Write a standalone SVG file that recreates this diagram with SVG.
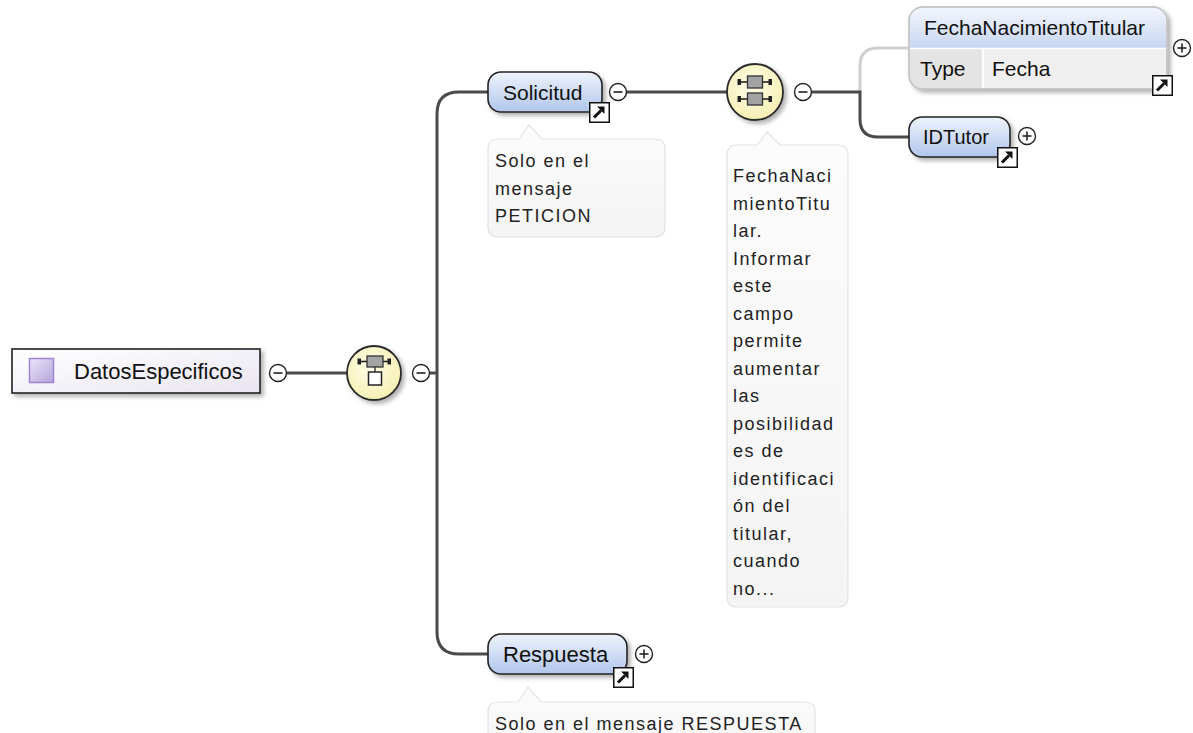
<svg xmlns="http://www.w3.org/2000/svg" xmlns:xlink="http://www.w3.org/1999/xlink" width="1193" height="733" viewBox="0 0 1193 733">
<style>
.lbl{font-family:"Liberation Sans",Arial,sans-serif;font-size:21px;fill:#111}
.cmt{font-family:"Liberation Sans",Arial,sans-serif;font-size:18px;letter-spacing:1.5px;fill:#222}
.node{fill:url(#gBlue);stroke:#222;stroke-width:1.6}
.cbox{fill:url(#gCmt);stroke:#e3e3e3;stroke-width:1.2}
.con{fill:none;stroke:#4a4a4a;stroke-width:3}
.conl{fill:none;stroke:#cfcfcf;stroke-width:3}
.comp{fill:url(#gYel);stroke:#2a2a2a;stroke-width:1.8}
</style>
<defs>
<linearGradient id="gBlue" x1="0" y1="0" x2="0" y2="1"><stop offset="0" stop-color="#eef3fc"/><stop offset="1" stop-color="#b1c6ec"/></linearGradient>
<linearGradient id="gHead" x1="0" y1="0" x2="0" y2="1"><stop offset="0" stop-color="#f3f6fc"/><stop offset="1" stop-color="#c7d6f1"/></linearGradient>
<linearGradient id="gCmt" x1="0" y1="0" x2="0" y2="1"><stop offset="0" stop-color="#fcfcfc"/><stop offset="1" stop-color="#f4f4f4"/></linearGradient>
<linearGradient id="gRoot" x1="0" y1="0" x2="1" y2="1"><stop offset="0" stop-color="#ffffff"/><stop offset="1" stop-color="#e9e5f1"/></linearGradient>
<linearGradient id="gPurp" x1="0" y1="0" x2="1" y2="1"><stop offset="0" stop-color="#ece6f8"/><stop offset="1" stop-color="#b3a3dc"/></linearGradient>
<radialGradient id="gYel" cx="0.45" cy="0.4" r="0.6"><stop offset="0" stop-color="#fffee8"/><stop offset="1" stop-color="#f6efb4"/></radialGradient>
<filter id="sh" x="-20%" y="-20%" width="150%" height="160%"><feDropShadow dx="3" dy="3" stdDeviation="2" flood-color="#000" flood-opacity="0.3"/></filter>
<g id="minus"><circle r="8.5" fill="#fff" stroke="#222" stroke-width="1.4"/><line x1="-4.5" y1="0" x2="4.5" y2="0" stroke="#222" stroke-width="1.6"/></g>
<g id="plus"><circle r="8.5" fill="#fff" stroke="#222" stroke-width="1.4"/><line x1="-4.5" y1="0" x2="4.5" y2="0" stroke="#222" stroke-width="1.6"/><line x1="0" y1="-4.5" x2="0" y2="4.5" stroke="#222" stroke-width="1.6"/></g>
<g id="link"><rect x="0.75" y="0.75" width="19.5" height="19.5" fill="#fff" stroke="#111" stroke-width="1.5"/><line x1="5" y1="15.5" x2="12" y2="8.5" stroke="#111" stroke-width="3"/><polygon points="8,4.5 15.5,4.5 15.5,12" fill="#111"/></g>
</defs>
<rect width="1193" height="733" fill="#fff"/>

<g id="connectors">
<line class="con" x1="287" y1="373" x2="347" y2="373"/>
<path class="con" d="M430,373 H437 M488,92 H459 Q437,92 437,114 V632 Q437,654 459,654 H488"/>
<line class="con" x1="626" y1="92" x2="727" y2="92"/>
<path class="conl" d="M860,92 V66 Q860,48 878,48 H909"/>
<path class="con" d="M812,92 H860 V119 Q860,137 878,137 H909"/>
</g>

<g id="n-datos">
<rect x="12" y="349" width="248" height="44" fill="url(#gRoot)" stroke="#222" stroke-width="1.6" filter="url(#sh)"/>
<rect x="29.5" y="358.5" width="24" height="24" fill="url(#gPurp)" stroke="#9c86cf" stroke-width="1.5"/>
<text class="lbl" x="74" y="379" style="font-size:22px">DatosEspecificos</text>
<use href="#minus" x="278" y="373"/>
</g>

<g id="n-seq1">
<circle class="comp" cx="374" cy="373" r="27" filter="url(#sh)"/>
<line x1="359" y1="361.5" x2="390" y2="361.5" stroke="#222" stroke-width="1.6"/>
<rect x="357.5" y="358.5" width="3.5" height="6" fill="#222"/>
<rect x="387.5" y="358.5" width="3.5" height="6" fill="#222"/>
<rect x="367" y="356" width="16" height="11" fill="#a3a3a3" stroke="#333" stroke-width="1.3"/>
<line x1="375" y1="367" x2="375" y2="372" stroke="#222" stroke-width="1.3"/>
<rect x="368.5" y="372" width="13" height="13" fill="#fff" stroke="#222" stroke-width="1.5"/>
<use href="#minus" x="421" y="373"/>
</g>

<g id="n-solicitud">
<rect class="node" x="488" y="72" width="114" height="40" rx="13" filter="url(#sh)"/>
<text class="lbl" x="503" y="100">Solicitud</text>
<use href="#link" x="589" y="102"/>
<use href="#minus" x="618" y="92"/>
</g>

<g id="c-solicitud">
<path class="cbox" d="M498,139 H519 L529,125 L542,139 H655 Q665,139 665,149 V227 Q665,237 655,237 H498 Q488,237 488,227 V149 Q488,139 498,139 Z"/>
<text class="cmt" x="495" y="167">Solo en el</text>
<text class="cmt" x="495" y="194.5">mensaje</text>
<text class="cmt" x="495" y="222">PETICION</text>
</g>

<g id="n-seq2">
<circle class="comp" cx="755" cy="92" r="28" filter="url(#sh)"/>
<g stroke="#222" stroke-width="1.6">
<line x1="739" y1="82" x2="771" y2="82"/>
<line x1="739" y1="99" x2="771" y2="99"/>
</g>
<rect x="737.5" y="79" width="3.5" height="6" fill="#222"/>
<rect x="768.5" y="79" width="3.5" height="6" fill="#222"/>
<rect x="737.5" y="96" width="3.5" height="6" fill="#222"/>
<rect x="768.5" y="96" width="3.5" height="6" fill="#222"/>
<rect x="747.5" y="76" width="15" height="12" fill="#a3a3a3" stroke="#333" stroke-width="1.3"/>
<rect x="747.5" y="93" width="15" height="12" fill="#a3a3a3" stroke="#333" stroke-width="1.3"/>
<use href="#minus" x="803" y="92"/>
</g>

<g id="c-seq2">
<path class="cbox" d="M737,145 H757 L767,132 L780,145 H838 Q848,145 848,155 V597 Q848,607 838,607 H737 Q727,607 727,597 V155 Q727,145 737,145 Z"/>
<text class="cmt" x="733" y="182">FechaNaci</text>
<text class="cmt" x="733" y="209.5">mientoTitu</text>
<text class="cmt" x="733" y="237">lar.</text>
<text class="cmt" x="733" y="264.5">Informar</text>
<text class="cmt" x="733" y="292">este</text>
<text class="cmt" x="733" y="319.5">campo</text>
<text class="cmt" x="733" y="347">permite</text>
<text class="cmt" x="733" y="374.5">aumentar</text>
<text class="cmt" x="733" y="402">las</text>
<text class="cmt" x="733" y="429.5">posibilidad</text>
<text class="cmt" x="733" y="457">es de</text>
<text class="cmt" x="733" y="484.5">identificaci</text>
<text class="cmt" x="733" y="512">ón del</text>
<text class="cmt" x="733" y="539.5">titular,</text>
<text class="cmt" x="733" y="567">cuando</text>
<text class="cmt" x="733" y="594.5">no...</text>
</g>

<g id="n-fecha">
<rect x="909" y="7" width="258" height="82" rx="14" fill="#efefef" stroke="#c4c4c4" stroke-width="1.4" filter="url(#sh)"/>
<path d="M923,7.7 H1153 Q1166.3,7.7 1166.3,21 V48 H909.7 V21 Q909.7,7.7 923,7.7 Z" fill="url(#gHead)"/>
<path d="M909.7,49 H982 V88.3 H923 Q909.7,88.3 909.7,75 Z" fill="#e4e4e4"/>
<line x1="909.7" y1="48.5" x2="1166.3" y2="48.5" stroke="#fff" stroke-width="1.5"/>
<line x1="983" y1="49" x2="983" y2="88.3" stroke="#fff" stroke-width="2"/>
<rect x="909" y="7" width="258" height="82" rx="14" fill="none" stroke="#c4c4c4" stroke-width="1.4"/>
<text class="lbl" x="924" y="35">FechaNacimientoTitular</text>
<text class="lbl" x="920" y="76">Type</text>
<text class="lbl" x="992" y="76">Fecha</text>
<use href="#link" x="1152" y="75"/>
<use href="#plus" x="1182" y="48"/>
</g>

<g id="n-idtutor">
<rect class="node" x="909" y="117" width="101" height="40" rx="13" filter="url(#sh)"/>
<text class="lbl" x="923" y="144" style="font-size:20px">IDTutor</text>
<use href="#link" x="997" y="147"/>
<use href="#plus" x="1027" y="136"/>
</g>

<g id="n-respuesta">
<rect class="node" x="488" y="634" width="139" height="40" rx="13" filter="url(#sh)"/>
<text class="lbl" x="503" y="662" style="font-size:22px">Respuesta</text>
<use href="#link" x="613" y="667"/>
<use href="#plus" x="644" y="654"/>
</g>

<g id="c-respuesta">
<path class="cbox" d="M498,702 H518 L528,687 L541,702 H805 Q815,702 815,712 V760 H488 V712 Q488,702 498,702 Z"/>
<text class="cmt" x="495" y="730">Solo en el mensaje RESPUESTA</text>
</g>
</svg>
